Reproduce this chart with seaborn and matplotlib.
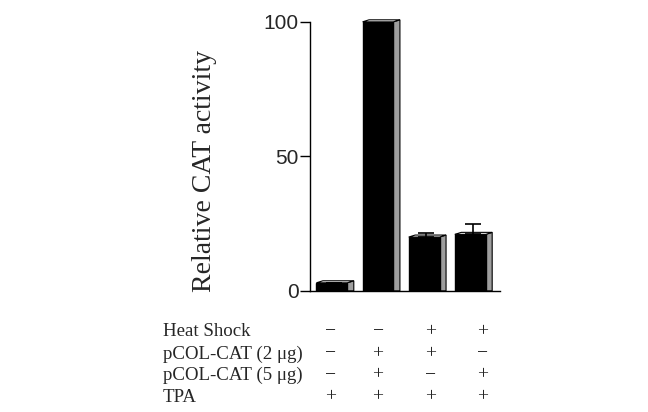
import numpy as np
import pandas as pd
import seaborn as sns
import matplotlib.pyplot as plt
from matplotlib.patches import Polygon
from matplotlib.transforms import blended_transform_factory

# values
lanes = ['1', '2', '3', '4']
activity = [3, 100, 20, 21]
err_up = [0, 0, 1.5, 4]

row_labels = ['Heat Shock', 'pCOL-CAT (2 \u03bcg)', 'pCOL-CAT (5 \u03bcg)', 'TPA']
heat_shock = ['\u2212', '\u2212', '+', '+']
pcol_2 = ['\u2212', '+', '+', '\u2212']
pcol_5 = ['\u2212', '+', '\u2212', '+']
tpa = ['+', '+', '+', '+']

sns.set_style('white')
plt.rcParams['font.family'] = ['Liberation Sans', 'DejaVu Sans']

df = pd.DataFrame({'lane': lanes, 'activity': activity})

fig = plt.figure(figsize=(6.48, 4.12), dpi=100)
ax = fig.add_axes([0.478, 0.294, 0.294, 0.653])

sns.barplot(data=df, x='lane', y='activity', color='black', width=0.67,
            saturation=1, ax=ax, errorbar=None, edgecolor='black', zorder=3)

# fake 3d side and top of each box
dx, dy = 0.14, 0.75
for p in ax.patches[:len(lanes)]:
    xl = p.get_x()
    xr = xl + p.get_width()
    h = p.get_height()
    side = Polygon([(xr, 0), (xr, h), (xr + dx, h + dy), (xr + dx, 0)],
                   closed=True, facecolor='#9e9e9e', edgecolor='black',
                   lw=0.8, zorder=2, clip_on=False)
    top = Polygon([(xl, h), (xl + dx, h + dy), (xr + dx, h + dy), (xr, h)],
                  closed=True, facecolor='white', edgecolor='black',
                  lw=0.8, zorder=4, clip_on=False)
    ax.add_patch(side)
    ax.add_patch(top)

xs = np.arange(len(lanes)) + 0.05
ax.errorbar(xs, activity, yerr=[np.zeros(len(lanes)), err_up], fmt='none',
            ecolor='black', elinewidth=1.2, capsize=6, capthick=1.2, zorder=5)

ax.set_xlim(-0.48, 3.65)
ax.set_ylim(0, 100)
ax.set_yticks([0, 50, 100])
ax.set_yticklabels(['0', '50', '100'], fontsize=15)
ax.set_xticks([])
ax.set_xlabel('')
ax.set_ylabel('')
sns.despine(ax=ax)
for s in ['left', 'bottom']:
    ax.spines[s].set_color('black')
    ax.spines[s].set_linewidth(1.0)
ax.tick_params(axis='y', direction='out', length=7, width=1, color='black',
               left=True, pad=1)

fig.text(0.315, 1 - 171 / 412, 'Relative CAT activity', rotation=90,
         family='Liberation Serif', fontsize=20, ha='center', va='center')

# condition table below the bars
col_x = [-0.04, 1.0, 2.13, 3.26]
row_y = [332, 354, 375, 397]
trans = blended_transform_factory(ax.transData, fig.transFigure)
rows = [heat_shock, pcol_2, pcol_5, tpa]
for lab, signs, yp in zip(row_labels, rows, row_y):
    yf = 1 - yp / 412
    fig.text(163 / 648, yf, lab, family='Liberation Serif', fontsize=13.6,
             ha='left', va='center')
    for cx, s in zip(col_x, signs):
        ax.text(cx, yf, s, transform=trans, family='Liberation Serif',
                fontsize=14, ha='center', va='center', clip_on=False)

fig.savefig('out.png', dpi=100)
